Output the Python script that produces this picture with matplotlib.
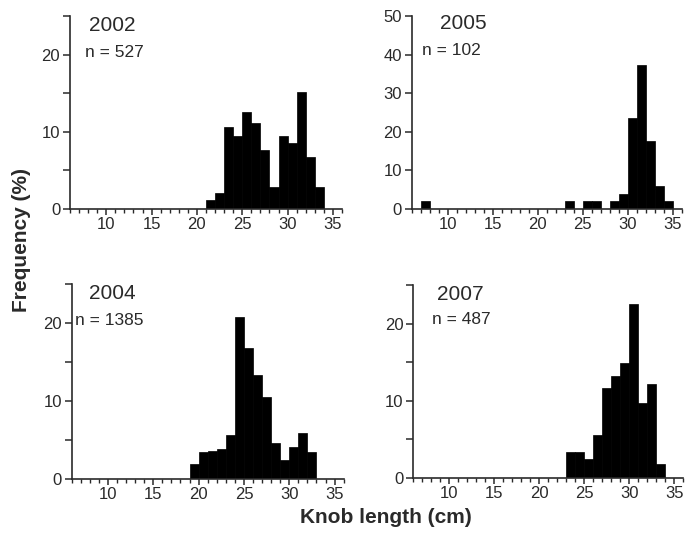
import matplotlib
matplotlib.use("Agg")
import matplotlib.pyplot as plt
from matplotlib.ticker import MultipleLocator

plt.rcParams['font.family'] = ['Liberation Sans', 'DejaVu Sans']

# knob length bins (left edge, cm) and frequency (%) per year
bins_2002 = [21, 22, 23, 24, 25, 26, 27, 28, 29, 30, 31, 32, 33]
freq_2002 = [1.2, 2.1, 10.6, 9.5, 12.6, 11.2, 7.6, 2.9, 9.5, 8.6, 15.2, 6.7, 2.9]

bins_2005 = [7, 23, 25, 26, 28, 29, 30, 31, 32, 33, 34]
freq_2005 = [2.0, 2.0, 2.0, 2.0, 2.0, 3.9, 23.5, 37.3, 17.6, 5.9, 2.0]

bins_2004 = [19, 20, 21, 22, 23, 24, 25, 26, 27, 28, 29, 30, 31, 32]
freq_2004 = [1.9, 3.4, 3.6, 3.9, 5.6, 20.7, 16.8, 13.3, 10.5, 4.6, 2.4, 4.1, 5.9, 3.4]

bins_2007 = [23, 24, 25, 26, 27, 28, 29, 30, 31, 32, 33]
freq_2007 = [3.3, 3.3, 2.4, 5.5, 11.7, 13.2, 14.9, 22.5, 9.7, 12.1, 1.8]

years = ["2002", "2005", "2004", "2007"]
sample_sizes = [527, 102, 1385, 487]

panels = [
    # bins, freqs, axes rect, ymax, year pos, n pos
    (bins_2002, freq_2002, [0.102, 0.610, 0.3965, 0.360], 25, (0.07, 0.95), (0.055, 0.81)),
    (bins_2005, freq_2005, [0.600, 0.610, 0.3936, 0.360], 50, (0.105, 0.96), (0.04, 0.82)),
    (bins_2004, freq_2004, [0.1045, 0.1063, 0.3965, 0.364], 25, (0.065, 0.95), (0.012, 0.81)),
    (bins_2007, freq_2007, [0.6025, 0.1088, 0.3936, 0.3595], 25, (0.088, 0.95), (0.068, 0.82)),
]

ink = '#2a2a2a'

fig = plt.figure(figsize=(6.86, 5.36), dpi=100)

for (bins, freqs, rect, ymax, ypos, npos), year, n in zip(panels, years, sample_sizes):
    ax = fig.add_axes(rect)
    ax.bar(bins, freqs, width=1.0, align='edge', color='black',
           edgecolor='black', linewidth=0.5)
    ax.set_xlim(6, 36)
    ax.set_ylim(0, ymax)

    ax.xaxis.set_minor_locator(MultipleLocator(1))
    ax.set_xticks([10, 15, 20, 25, 30, 35])
    ax.set_yticks(list(range(0, ymax + 1, 10)))
    if ymax == 25:
        ax.yaxis.set_minor_locator(MultipleLocator(5))

    for side in ('top', 'right'):
        ax.spines[side].set_visible(False)
    for side in ('left', 'bottom'):
        ax.spines[side].set_color(ink)
        ax.spines[side].set_linewidth(1.2)

    ax.tick_params(axis='both', which='major', direction='out', colors=ink,
                   labelsize=12, width=1.1, length=5, pad=2)
    ax.tick_params(axis='x', which='major', length=4)
    ax.tick_params(axis='x', which='minor', direction='out', color=ink,
                   width=1.0, length=3)
    ax.tick_params(axis='y', which='minor', direction='out', color=ink,
                   width=1.1, length=5)

    ax.text(ypos[0], ypos[1], year, transform=ax.transAxes, fontsize=15,
            color=ink, ha='left', va='center')
    ax.text(npos[0], npos[1], f"n = {n}", transform=ax.transAxes, fontsize=12.5,
            color=ink, ha='left', va='center')

fig.text(0.032, 0.552, "Frequency (%)", rotation=90, fontsize=15,
         fontweight='bold', color=ink, ha='center', va='center')
fig.text(0.562, 0.034, "Knob length (cm)", fontsize=15,
         fontweight='bold', color=ink, ha='center', va='center')

fig.savefig("out.png", dpi=100)
